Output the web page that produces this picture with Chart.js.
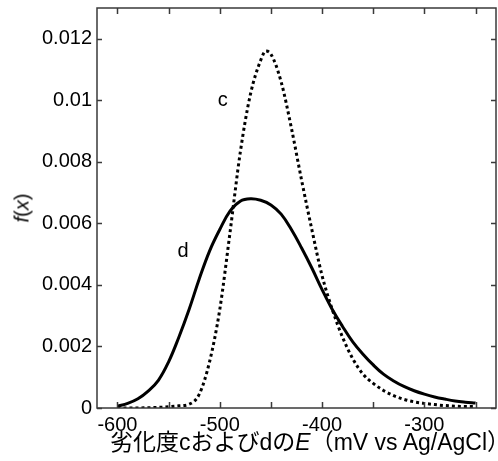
<!DOCTYPE html>
<html>
<head>
<meta charset="utf-8">
<script src="https://cdn.jsdelivr.net/npm/chart.js@4/dist/chart.umd.min.js"></script>
<style>
  body { margin: 0; background: #fff; }
  #wrap { position: relative; width: 498px; height: 461px; }
  .title { position: absolute; font-family: "Liberation Sans", "Noto Sans CJK JP", sans-serif; color: #000; white-space: nowrap; }
  #xTitle { left: 110px; top: 423px; font-size: 23px; }
  #yTitle { left: 22px; top: 208px; font-size: 20px; transform: translate(-50%, -50%) rotate(-90deg); }
</style>
</head>
<body>
<div id="wrap">
  <canvas id="chart" width="498" height="461"></canvas>
  <div id="xTitle" class="title">劣化度cおよびdの<i>E</i>（mV vs Ag/AgCl）</div>
  <div id="yTitle" class="title"><i>f</i>(<i>x</i>)</div>
</div>
<script>
// curve c (dotted)
const cE = [-600, -590, -580, -570, -560, -550, -540, -530, -520, -510, -500, -490, -480, -470, -460, -455, -450, -440, -430, -420, -410, -400, -390, -380, -370, -360, -350, -340, -330, -320, -310, -300, -290, -280, -270, -260, -250];
const cF = [0, 0, 0, 0.00001, 0.00002, 0.00004, 0.00007, 0.00012, 0.00045, 0.0015, 0.0032, 0.0057, 0.0083, 0.0102, 0.0113, 0.0116, 0.0115, 0.0106, 0.0091, 0.0074, 0.0058, 0.0043, 0.0032, 0.0023, 0.0016, 0.0011, 0.0008, 0.00057, 0.0004, 0.00028, 0.0002, 0.00015, 0.00011, 0.00008, 0.00006, 0.00005, 0.00005];

// curve d (solid)
const dE = [-600, -590, -580, -570, -560, -550, -540, -530, -520, -510, -500, -490, -480, -470, -460, -450, -440, -430, -420, -410, -400, -390, -380, -370, -360, -350, -340, -330, -320, -310, -300, -290, -280, -270, -260, -250];
const dF = [0.00006, 0.00015, 0.0003, 0.00055, 0.0009, 0.0015, 0.0023, 0.0032, 0.0042, 0.0051, 0.0058, 0.0064, 0.00672, 0.0068, 0.00675, 0.0066, 0.0063, 0.0058, 0.0052, 0.00455, 0.00385, 0.0032, 0.00265, 0.00215, 0.00175, 0.0014, 0.0011, 0.00088, 0.0007, 0.00056, 0.00045, 0.00036, 0.00029, 0.00023, 0.00019, 0.00016];

const xLabels = [-600, -500, -400, -300];
const curveLabels = [{ text: "c", x: -497, y: 0.0100 }, { text: "d", x: -536, y: 0.0051 }];

const toPoints = (xs, ys) => xs.map((x, i) => ({ x: x, y: ys[i] }));

const fontFamily = '"Liberation Sans", Arial, sans-serif';

// frame + inward ticks + curve labels
const framePlugin = {
  id: "frame",
  afterDraw(chart) {
    const ctx = chart.ctx;
    const a = chart.chartArea;
    const xs = chart.scales.x, ys = chart.scales.y;
    ctx.save();
    ctx.strokeStyle = "#3a3a3a";
    ctx.lineWidth = 1.5;
    ctx.strokeRect(a.left, a.top, a.right - a.left, a.bottom - a.top);
    ctx.beginPath();
    xs.ticks.forEach(t => {
      const px = Math.round(xs.getPixelForValue(t.value)) + 0.5;
      ctx.moveTo(px, a.bottom); ctx.lineTo(px, a.bottom - 6);
      ctx.moveTo(px, a.top); ctx.lineTo(px, a.top + 6);
    });
    ys.ticks.forEach(t => {
      const py = Math.round(ys.getPixelForValue(t.value)) + 0.5;
      ctx.moveTo(a.left, py); ctx.lineTo(a.left + 5, py);
      ctx.moveTo(a.right, py); ctx.lineTo(a.right - 5, py);
    });
    ctx.stroke();
    ctx.fillStyle = "#000";
    ctx.font = "20px " + fontFamily;
    ctx.textAlign = "center";
    ctx.textBaseline = "middle";
    curveLabels.forEach(l => {
      ctx.fillText(l.text, xs.getPixelForValue(l.x), ys.getPixelForValue(l.y));
    });
    ctx.restore();
  }
};

new Chart(document.getElementById("chart").getContext("2d"), {
  type: "line",
  data: {
    datasets: [
      {
        label: "c",
        data: toPoints(cE, cF),
        borderColor: "#000",
        borderWidth: 3,
        borderDash: [3, 3],
        pointRadius: 0,
        fill: false,
        cubicInterpolationMode: "monotone"
      },
      {
        label: "d",
        data: toPoints(dE, dF),
        borderColor: "#000",
        borderWidth: 3,
        pointRadius: 0,
        fill: false,
        tension: 0.4
      }
    ]
  },
  options: {
    responsive: false,
    devicePixelRatio: 1,
    animation: false,
    layout: { padding: { top: 8, right: 2, left: 0, bottom: 0 } },
    plugins: { legend: { display: false }, tooltip: { enabled: false } },
    scales: {
      x: {
        type: "linear",
        min: -620,
        max: -230,
        grid: { display: false, drawTicks: false },
        border: { display: false },
        ticks: {
          stepSize: 50,
          includeBounds: false,
          autoSkip: false,
          maxRotation: 0,
          padding: 5,
          color: "#000",
          font: { family: fontFamily, size: 20 },
          callback: v => xLabels.includes(v) ? String(v) : ""
        },
        afterFit: s => { s.height = 53; s.paddingLeft = 0; s.paddingRight = 0; }
      },
      y: {
        min: 0,
        max: 0.013,
        grid: { display: false, drawTicks: false },
        border: { display: false },
        ticks: {
          stepSize: 0.002,
          includeBounds: false,
          padding: 5,
          color: "#000",
          font: { family: fontFamily, size: 20 },
          callback: v => String(Number(v.toFixed(3)))
        },
        afterFit: s => { s.width = 97; s.paddingTop = 0; s.paddingBottom = 0; }
      }
    }
  },
  plugins: [framePlugin]
});
</script>
</body>
</html>
